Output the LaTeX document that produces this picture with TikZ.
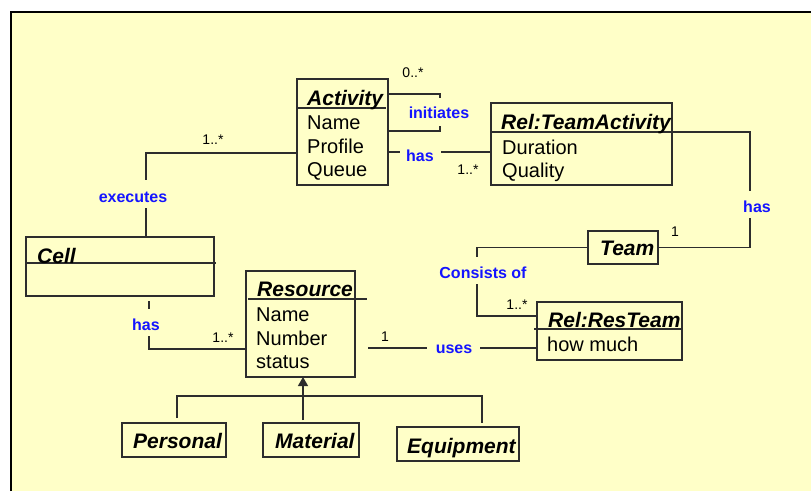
\documentclass[tikz,border=0pt]{standalone}
\usepackage{fontspec}
\setmainfont{Liberation Sans}
\usetikzlibrary{arrows.meta}
\definecolor{bgyellow}{RGB}{255,255,200}
\definecolor{linegray}{RGB}{45,45,45}
\definecolor{relblue}{RGB}{20,20,255}
\tikzset{
  classbox/.style={draw=linegray, line width=1.5pt, inner sep=0pt, outer sep=0pt, anchor=north west},
  divider/.style={draw=linegray, line width=1.3pt},
  conn/.style={draw=linegray, line width=1.3pt},
  ctitle/.style={inner sep=0pt, anchor=base west, font=\fontsize{21}{25}\selectfont\bfseries\itshape},
  attr/.style={inner sep=0pt, anchor=base west, font=\fontsize{20}{24}\selectfont},
  rel/.style={inner sep=0pt, text=relblue, font=\fontsize{16}{19}\selectfont\bfseries},
  mult/.style={inner sep=0pt, font=\fontsize{14}{16}\selectfont}
}
\begin{document}
\begin{tikzpicture}[x=1pt, y=-1pt]
\useasboundingbox (0,0) rectangle (811,491);
% page and slide background
\fill[white] (0,0) rectangle (811,491);
\fill[bgyellow] (11,12) rectangle (811,491);
\draw[black, line width=1.4pt] (11,491) -- (11,12) -- (811,12);

% class boxes
\node[classbox, minimum width=91pt,  minimum height=106pt] (act)   at (297,79)  {};
\node[classbox, minimum width=181pt, minimum height=82pt]  (ta)    at (491,103) {};
\node[classbox, minimum width=188pt, minimum height=59pt]  (cell)  at (26,237)  {};
\node[classbox, minimum width=109pt, minimum height=106pt] (res)   at (246,271) {};
\node[classbox, minimum width=70pt,  minimum height=33pt]  (team)  at (588,231) {};
\node[classbox, minimum width=145pt, minimum height=58pt]  (rt)    at (537,302) {};
\node[classbox, minimum width=104pt, minimum height=34pt]  (pers)  at (122,423) {};
\node[classbox, minimum width=96pt,  minimum height=34pt]  (mat)   at (263,423) {};
\node[classbox, minimum width=122pt, minimum height=34pt]  (equip) at (397,427) {};

% compartment dividers
\draw[divider] (act.west |- 0,108) -- (386,108);
\draw[divider] (ta.west |- 0,132) -- (ta.east |- 0,132);
\draw[divider] (cell.west |- 0,263) -- (216,263);
\draw[divider] (248,299) -- (367,299);
\draw[divider] (534,329) -- (rt.east |- 0,329);

% class names and attributes
\node[ctitle] (tact) at (307,105) {Activity};
\node[attr] (a1) at (307,129) {Name};
\node[attr] (a2) at (307,153) {Profile};
\node[attr] (a3) at (307,176) {Queue};

\node[ctitle] (tta) at (501,129) {Rel:TeamActivity};
\node[attr] (b1) at (502,154) {Duration};
\node[attr] (b2) at (502,177) {Quality};

\node[ctitle] (tcell) at (37,263) {Cell};

\node[ctitle] (tres) at (257,296) {Resource};
\node[attr] (r1) at (256,321) {Name};
\node[attr] (r2) at (256,345) {Number};
\node[attr] (r3) at (256,368) {status};

\node[ctitle] (tteam) at (600,255) {Team};

\node[ctitle] (trt) at (548,327) {Rel:ResTeam};
\node[attr] (t1) at (547,351) {how much};

\node[ctitle] (tpers)  at (133,448) {Personal};
\node[ctitle] (tmat)   at (275,448) {Material};
\node[ctitle] (tequip) at (407,453) {Equipment};

% gap ends of the association lines
\coordinate (ex1) at (146,180);
\coordinate (ex2) at (146,208);
\coordinate (ch1) at (149,301);
\coordinate (ch2) at (149,309);
\coordinate (ch3) at (149,336);
\coordinate (in1) at (440,98);
\coordinate (in2) at (440,126);
\coordinate (ha1) at (400,152);
\coordinate (ha2) at (441,152);
\coordinate (th1) at (750,191);
\coordinate (th2) at (750,218);
\coordinate (co1) at (477,257);
\coordinate (co2) at (477,284);
\coordinate (us0) at (368,348);
\coordinate (us1) at (427,348);
\coordinate (us2) at (480,348);

% associations
\draw[conn] (act.west |- 0,153) -| (ex1);
\draw[conn] (ex2) -- (ex2 |- cell.north);
\draw[conn] (ch1) -- (ch2);
\draw[conn] (ch3) |- (res.west |- 0,349);
\draw[conn] (act.east |- 0,94) -| (in1);
\draw[conn] (in2) |- (act.east |- 0,131);
\draw[conn] (act.east |- 0,152) -- (ha1);
\draw[conn] (ha2) -- (ta.west |- 0,152);
\draw[conn] (ta.east |- 0,132) -| (th1);
\draw[conn] (th2) |- (team.east);
\draw[conn] (team.west) -| (co1);
\draw[conn] (co2) |- (rt.west |- 0,316);
\draw[conn] (us0) -- (us1);
\draw[conn] (us2) -- (rt.west |- us2);

% generalization
\coordinate (gbase) at (303,420);
\coordinate (g1) at (177,418);
\coordinate (g2) at (482,423);
\coordinate (gh) at (0,396);
\draw[conn, -{Triangle[length=9pt,width=10pt]}] (gbase) -- (gbase |- res.south);
\draw[conn] (g1) -- (g1 |- gh) -- (g2 |- gh) -- (g2);

% association names
\node[rel] (lbexe) at (133,197) {executes};
\node[rel] (lbch)  at (146,325) {has};
\node[rel] (lbini) at (439,113) {initiates};
\node[rel] (lbha)  at (420,156) {has};
\node[rel] (lbth)  at (757,207) {has};
\node[rel] (lbco)  at (483,273) {Consists of};
\node[rel] (lbus)  at (454,349) {uses};

% multiplicities
\node[mult] (m1) at (213,140) {1..*};
\node[mult] (m2) at (223,338) {1..*};
\node[mult] (m3) at (413,73)  {0..*};
\node[mult] (m4) at (468,170) {1..*};
\node[mult] (m5) at (675,232) {1};
\node[mult] (m6) at (517,305) {1..*};
\node[mult] (m7) at (385,337) {1};
\end{tikzpicture}
\end{document}
